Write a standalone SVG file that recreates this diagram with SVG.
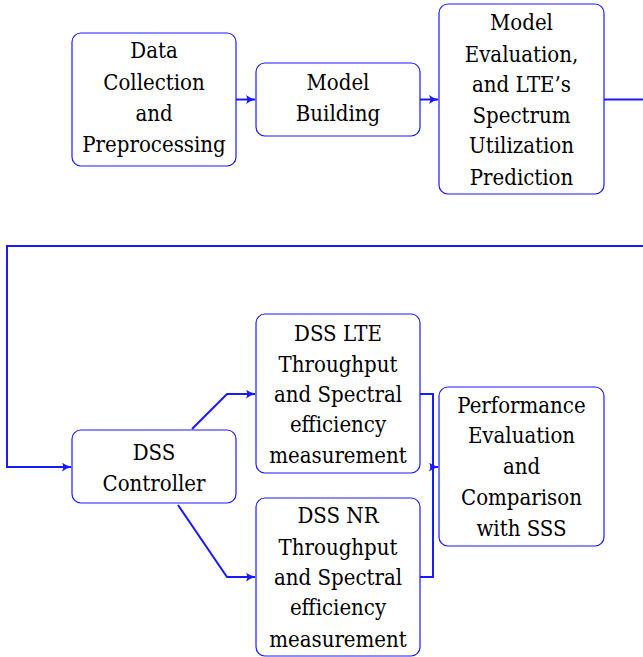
<svg xmlns="http://www.w3.org/2000/svg" width="643" height="657" viewBox="0 0 643 657">
  <style>
    .box { fill: #ffffff; stroke: #1a1aff; stroke-width: 1.2; }
    .lbl { font-family: 'DejaVu Serif Condensed', 'DejaVu Serif', serif; font-size: 22px; fill: #000; text-anchor: middle; }
    .conn { fill: none; stroke: #1a1aff; stroke-width: 2; }
  </style>
  <defs>
    <marker id="arrow" viewBox="0 0 10 9" refX="9" refY="4.5" markerWidth="10" markerHeight="9" markerUnits="userSpaceOnUse" orient="auto">
      <path d="M0,0 Q4,3.4 10,4.5 Q4,5.6 0,9 Q2.5,4.5 0,0 z" fill="#1a1aff"/>
    </marker>
  </defs>

  <g id="connectors">
    <path class="conn" d="M236,99.5 H255" marker-end="url(#arrow)"/>
    <path class="conn" d="M420,99.5 H438" marker-end="url(#arrow)"/>
    <path class="conn" d="M604,99.5 H643"/>
    <path class="conn" d="M643,246 H7 V467 H71" marker-end="url(#arrow)"/>
    <path class="conn" d="M192,429 L227,394 H255" marker-end="url(#arrow)"/>
    <path class="conn" d="M178,505 L227,577 H255" marker-end="url(#arrow)"/>
    <path class="conn" d="M420,394 H433 V577 H420"/>
    <path class="conn" d="M433,467 H438" marker-end="url(#arrow)"/>
  </g>

  <g id="data-collection">
    <rect class="box" x="72" y="33" width="164" height="133" rx="9"/>
    <text class="lbl" x="154" y="58">Data</text>
    <text class="lbl" x="154" y="90">Collection</text>
    <text class="lbl" x="154" y="121">and</text>
    <text class="lbl" x="154" y="152">Preprocessing</text>
  </g>

  <g id="model-building">
    <rect class="box" x="256" y="63" width="164" height="73" rx="9"/>
    <text class="lbl" x="338" y="90">Model</text>
    <text class="lbl" x="338" y="121">Building</text>
  </g>

  <g id="model-evaluation">
    <rect class="box" x="439" y="4" width="165" height="190" rx="9"/>
    <text class="lbl" x="521.5" y="30">Model</text>
    <text class="lbl" x="521.5" y="62">Evaluation,</text>
    <text class="lbl" x="521.5" y="92">and LTE’s</text>
    <text class="lbl" x="521.5" y="123">Spectrum</text>
    <text class="lbl" x="521.5" y="153">Utilization</text>
    <text class="lbl" x="521.5" y="185">Prediction</text>
  </g>

  <g id="dss-controller">
    <rect class="box" x="72" y="430" width="164" height="73" rx="9"/>
    <text class="lbl" x="154" y="460">DSS</text>
    <text class="lbl" x="154" y="491">Controller</text>
  </g>

  <g id="dss-lte">
    <rect class="box" x="256" y="314" width="164" height="159" rx="9"/>
    <text class="lbl" x="338" y="341">DSS LTE</text>
    <text class="lbl" x="338" y="372">Throughput</text>
    <text class="lbl" x="338" y="402">and Spectral</text>
    <text class="lbl" x="338" y="432">efficiency</text>
    <text class="lbl" x="338" y="463">measurement</text>
  </g>

  <g id="dss-nr">
    <rect class="box" x="256" y="498" width="164" height="158" rx="9"/>
    <text class="lbl" x="338" y="523">DSS NR</text>
    <text class="lbl" x="338" y="555">Throughput</text>
    <text class="lbl" x="338" y="585">and Spectral</text>
    <text class="lbl" x="338" y="615">efficiency</text>
    <text class="lbl" x="338" y="647">measurement</text>
  </g>

  <g id="performance-evaluation">
    <rect class="box" x="439" y="387" width="165" height="159" rx="9"/>
    <text class="lbl" x="521.5" y="413">Performance</text>
    <text class="lbl" x="521.5" y="443">Evaluation</text>
    <text class="lbl" x="521.5" y="474">and</text>
    <text class="lbl" x="521.5" y="505">Comparison</text>
    <text class="lbl" x="521.5" y="536">with SSS</text>
  </g>
</svg>
